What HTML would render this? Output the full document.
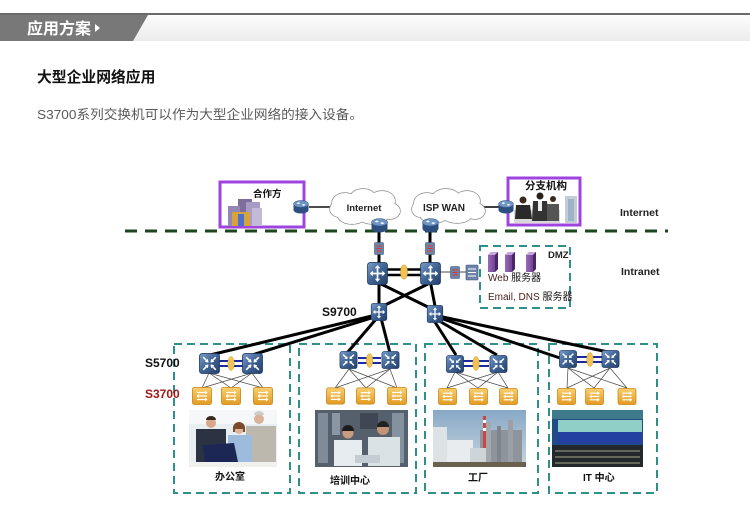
<!DOCTYPE html>
<html><head><meta charset="utf-8">
<style>
html,body{margin:0;padding:0;background:#fff;}
body{width:750px;height:511px;overflow:hidden;position:relative;font-family:"Liberation Sans","Noto Sans CJK SC",sans-serif;}
svg{position:absolute;left:0;top:0;}
</style></head>
<body>
<svg width="750" height="511" viewBox="0 0 750 511" xmlns="http://www.w3.org/2000/svg" font-family="Liberation Sans, Noto Sans CJK SC, sans-serif">
<defs>
  <linearGradient id="hdr" x1="0" y1="0" x2="0" y2="1">
    <stop offset="0" stop-color="#fdfdfd"/><stop offset="1" stop-color="#ebebeb"/>
  </linearGradient>
  <linearGradient id="gb" x1="0" y1="0" x2="1" y2="1">
    <stop offset="0" stop-color="#7a9cc8"/><stop offset="0.5" stop-color="#3f6394"/><stop offset="1" stop-color="#243f69"/>
  </linearGradient>
  <linearGradient id="go" x1="0" y1="0" x2="0" y2="1">
    <stop offset="0" stop-color="#f9cf70"/><stop offset="1" stop-color="#e39a22"/>
  </linearGradient>
  <linearGradient id="sky" x1="0" y1="0" x2="0" y2="1">
    <stop offset="0" stop-color="#88a8c6"/><stop offset="1" stop-color="#c9d5df"/>
  </linearGradient>
  <linearGradient id="sv" x1="0" y1="0" x2="1" y2="0">
    <stop offset="0" stop-color="#9a6ab8"/><stop offset="1" stop-color="#5e3480"/>
  </linearGradient>
  <symbol id="core" viewBox="0 0 20 22">
    <rect x="0.5" y="0.5" width="19" height="21" rx="2.5" fill="url(#gb)" stroke="#1f3a62" stroke-width="0.8"/>
    <path d="M10 5v12M4.5 11h11" stroke="#fff" stroke-width="1.6"/>
    <path d="M10 3l-2.6 3h5.2zM10 19l-2.6-3h5.2zM2.5 11l3-2.6v5.2zM17.5 11l-3-2.6v5.2z" fill="#fff"/>
  </symbol>
  <symbol id="agg" viewBox="0 0 20 20">
    <rect x="0.5" y="0.5" width="19" height="19" rx="2.5" fill="url(#gb)" stroke="#1f3a62" stroke-width="0.8"/>
    <path d="M4 4L8.5 8.5M16 4L11.5 8.5M4 16L8.5 11.5M16 16L11.5 11.5" stroke="#fff" stroke-width="1.6"/>
    <path d="M9 9l-3.5-0.5 3-3zM11 9l3.5-0.5-3-3zM9 11l-3.5 0.5 3 3zM11 11l3.5 0.5-3 3z" fill="#fff"/>
  </symbol>
  <symbol id="acc" viewBox="0 0 20 18">
    <rect x="0.5" y="0.5" width="19" height="17" rx="2" fill="url(#go)" stroke="#c98410" stroke-width="0.8"/>
    <path d="M5 5.5h10M5 9h10M5 12.5h10" stroke="#fff" stroke-width="1.3"/>
    <path d="M15.5 5.5l-2.5-2v4zM4.5 9l2.5-2v4zM15.5 12.5l-2.5-2v4z" fill="#fff"/>
  </symbol>
  <symbol id="rt" viewBox="0 0 16 14">
    <path d="M0.5 4v6a7.5 3.5 0 0 0 15 0v-6z" fill="#2c4f80"/>
    <ellipse cx="8" cy="4" rx="7.5" ry="3.5" fill="#6f95c4" stroke="#2c4f80" stroke-width="0.5"/>
    <path d="M4 3.2h3M9 4.8h3M6 2.5l-1.5 0.7 1.5 0.7M10 4.1l1.5 0.7-1.5 0.7" stroke="#fff" stroke-width="0.9" fill="none"/>
  </symbol>
  <symbol id="fw" viewBox="0 0 10 13">
    <rect x="0.5" y="0.5" width="9" height="12" rx="1" fill="#6d84a6" stroke="#3d5478" stroke-width="0.6"/>
    <path d="M2.5 4h5M2.5 6.5h5M2.5 9h5" stroke="#d33" stroke-width="1"/>
  </symbol>
  <symbol id="srv" viewBox="0 0 10 20">
    <path d="M0 3l3-3h7v17l-3 3H0z" fill="url(#sv)"/>
    <path d="M0 3l3-3h7l-3 3z" fill="#c9a4e0"/>
    <path d="M7 3l3-3v17l-3 3z" fill="#4a2668"/>
  </symbol>
</defs>

<!-- header -->
<rect x="0" y="13" width="750" height="2" fill="#6a6a6a"/>
<polygon points="148,15 750,15 750,41 133,41" fill="url(#hdr)"/>
<polygon points="0,15 148,15 133,41 0,41" fill="#787878"/>
<text x="27" y="34" font-size="16" font-weight="bold" fill="#fff">应用方案</text>
<polygon points="95,24 100,28 95,32" fill="#fff"/>

<text x="37" y="82" font-size="14.8" font-weight="bold" fill="#111">大型企业网络应用</text>
<text x="37" y="119" font-size="13" fill="#5a5a5a" textLength="326" lengthAdjust="spacingAndGlyphs">S3700系列交换机可以作为大型企业网络的接入设备。</text>

<!-- dashed internet boundary -->
<line x1="125" y1="231" x2="668" y2="231" stroke="#1e461e" stroke-width="3" stroke-dasharray="12 8"/>

<!-- partner box -->
<rect x="220" y="182" width="84" height="45" fill="#fff" stroke="#9d45dc" stroke-width="3"/>
<g>
  <rect x="238" y="199" width="14" height="27" fill="#7d6e9e"/>
  <rect x="246" y="202" width="14" height="24" fill="#a79cc4"/>
  <rect x="228" y="206" width="12" height="20" fill="#9487b5"/>
  <rect x="252" y="208" width="10" height="18" fill="#c2bad6"/>
  <rect x="232" y="212" width="18" height="14" fill="#d6a43a"/>
  <rect x="238" y="214" width="6" height="12" fill="#4d6fd0"/>
</g>
<text x="253" y="197" font-size="9.5" font-weight="bold" fill="#111">合作方</text>
<use href="#rt" x="293" y="200" width="16" height="14"/>
<line x1="309" y1="207" x2="332" y2="207" stroke="#111" stroke-width="1.6"/>

<!-- branch box -->
<rect x="508" y="178" width="72" height="47" fill="#fff" stroke="#9d45dc" stroke-width="3"/>
<g>
  <rect x="565" y="196" width="12" height="27" fill="#c4ccd6"/>
  <rect x="568" y="199" width="6" height="22" fill="#9fb3c8"/>
  <rect x="514" y="210" width="46" height="13" fill="#d8d8d8"/>
  <circle cx="523" cy="200" r="3.5" fill="#3a2a20"/>
  <path d="M516 205h14l2 14h-17z" fill="#2a2a2a"/>
  <circle cx="540" cy="196" r="3.5" fill="#2a2018"/>
  <path d="M533 201h14l2 20h-17z" fill="#333"/>
  <rect x="538" y="201" width="4" height="10" fill="#eee"/>
  <circle cx="553" cy="199" r="3" fill="#3a2a20"/>
  <path d="M547 204h12v17h-12z" fill="#555"/>
</g>
<text x="525" y="189" font-size="10.5" font-weight="bold" fill="#111">分支机构</text>
<line x1="484" y1="207" x2="500" y2="207" stroke="#111" stroke-width="1.6"/>
<use href="#rt" x="498" y="200" width="16" height="14"/>

<!-- clouds -->
<g fill="#fff" stroke="#8a8a8a" stroke-width="1.4">
  <ellipse cx="345" cy="203" rx="13" ry="10"/><ellipse cx="363" cy="198" rx="13" ry="9"/>
  <ellipse cx="382" cy="201" rx="13" ry="10"/><ellipse cx="390" cy="211" rx="10" ry="8"/>
  <ellipse cx="373" cy="216" rx="15" ry="8"/><ellipse cx="352" cy="216" rx="14" ry="8"/>
  <ellipse cx="339" cy="209" rx="9" ry="8"/>
  <ellipse cx="427" cy="203" rx="13" ry="10"/><ellipse cx="446" cy="198" rx="14" ry="9"/>
  <ellipse cx="467" cy="201" rx="13" ry="10"/><ellipse cx="475" cy="211" rx="10" ry="8"/>
  <ellipse cx="457" cy="215" rx="15" ry="8"/><ellipse cx="434" cy="215" rx="14" ry="8"/>
  <ellipse cx="420" cy="209" rx="8" ry="8"/>
</g>
<g fill="#fff">
  <ellipse cx="345" cy="203" rx="13" ry="10"/><ellipse cx="363" cy="198" rx="13" ry="9"/>
  <ellipse cx="382" cy="201" rx="13" ry="10"/><ellipse cx="390" cy="211" rx="10" ry="8"/>
  <ellipse cx="373" cy="216" rx="15" ry="8"/><ellipse cx="352" cy="216" rx="14" ry="8"/>
  <ellipse cx="339" cy="209" rx="9" ry="8"/><rect x="340" y="200" width="45" height="16"/>
  <ellipse cx="427" cy="203" rx="13" ry="10"/><ellipse cx="446" cy="198" rx="14" ry="9"/>
  <ellipse cx="467" cy="201" rx="13" ry="10"/><ellipse cx="475" cy="211" rx="10" ry="8"/>
  <ellipse cx="457" cy="215" rx="15" ry="8"/><ellipse cx="434" cy="215" rx="14" ry="8"/>
  <ellipse cx="420" cy="209" rx="8" ry="8"/><rect x="424" y="200" width="48" height="15"/>
</g>
<text x="364" y="211" font-size="9.5" font-weight="bold" fill="#222" text-anchor="middle">Internet</text>
<text x="444" y="211" font-size="10" font-weight="bold" fill="#222" text-anchor="middle">ISP WAN</text>

<!-- core vertical links -->
<g stroke="#000" stroke-width="3">
  <line x1="379" y1="228" x2="379" y2="305"/>
  <line x1="430" y1="228" x2="430" y2="268"/>
  <line x1="430" y1="280" x2="435" y2="306"/>
  <line x1="381" y1="284" x2="430" y2="308"/>
  <line x1="428" y1="284" x2="381" y2="307"/>
  <line x1="386" y1="269.5" x2="424" y2="269.5" stroke-width="2.5"/>
  <line x1="386" y1="275" x2="424" y2="275" stroke-width="2.5"/>
</g>
<ellipse cx="404" cy="272" rx="3.5" ry="7" fill="#f1c354" stroke="#d9a02a" stroke-width="0.6"/>
<line x1="440" y1="272" x2="468" y2="272" stroke="#888" stroke-width="1.6"/>

<use href="#rt" x="371" y="218" width="17" height="15"/>
<use href="#rt" x="422" y="218" width="17" height="15"/>
<use href="#fw" x="374" y="242" width="10" height="13"/>
<use href="#fw" x="425" y="242" width="10" height="13"/>
<use href="#core" x="367" y="262" width="21" height="23"/>
<use href="#core" x="420" y="262" width="21" height="23"/>
<use href="#fw" x="450" y="266" width="10" height="13"/>
<g>
  <rect x="466" y="265" width="12" height="15" rx="1" fill="#6d84a6" stroke="#3d5478" stroke-width="0.6"/>
  <path d="M468 269h8M468 272.5h8M468 276h8" stroke="#fff" stroke-width="0.9"/>
</g>

<!-- DMZ -->
<rect x="480" y="246" width="90" height="62" fill="none" stroke="#2f8f8a" stroke-width="2" stroke-dasharray="8 5"/>
<text x="548" y="258" font-size="9.5" font-weight="bold" fill="#222">DMZ</text>
<use href="#srv" x="488" y="252" width="10" height="20"/>
<use href="#srv" x="505" y="252" width="10" height="20"/>
<use href="#srv" x="526" y="252" width="10" height="20"/>
<text x="488" y="281" font-size="10" fill="#4a2020">Web <tspan fill="#111">服务器</tspan></text>
<text x="488" y="300" font-size="10" fill="#4a2020">Email, DNS <tspan fill="#111">服务器</tspan></text>

<text x="620" y="216" font-size="10.5" font-weight="bold" fill="#222">Internet</text>
<text x="621" y="275" font-size="10.5" font-weight="bold" fill="#222">Intranet</text>
<text x="322" y="316" font-size="12" font-weight="bold" fill="#111">S9700</text>

<!-- area boxes -->
<g fill="none" stroke="#2f8f8a" stroke-width="2" stroke-dasharray="8 5">
  <rect x="174" y="344" width="116" height="149"/>
  <rect x="299" y="344" width="117" height="149"/>
  <rect x="425" y="344" width="113" height="149"/>
  <rect x="549" y="344" width="108" height="149"/>
</g>

<!-- thick links to aggregation -->
<g stroke="#000" stroke-width="3">
  <line x1="376" y1="315" x2="210" y2="355"/>
  <line x1="378" y1="316" x2="252" y2="355"/>
  <line x1="377" y1="318" x2="347" y2="353"/>
  <line x1="381" y1="318" x2="390" y2="353"/>
  <line x1="433" y1="319" x2="456" y2="355"/>
  <line x1="436" y1="319" x2="497" y2="355"/>
  <line x1="437" y1="317" x2="560" y2="358"/>
  <line x1="438" y1="316" x2="608" y2="352"/>
</g>
<use href="#core" x="370" y="303" width="18" height="18"/>
<use href="#core" x="426" y="305" width="18" height="18"/>

<text x="145" y="367" font-size="12" font-weight="bold" fill="#111">S5700</text>
<text x="145" y="398" font-size="12" font-weight="bold" fill="#a01818">S3700</text>

<!-- mesh thin lines -->
<g stroke="#444" stroke-width="0.7" fill="none">
  <path d="M209 373L202 388M209 373L231 388M209 373L263 388M252 373L202 388M252 373L231 388M252 373L263 388"/>
  <path d="M349 369L335 388M349 369L366 388M349 369L397 388M390 369L335 388M390 369L366 388M390 369L397 388"/>
  <path d="M455 372L447 388M455 372L478 388M455 372L508 388M498 372L447 388M498 372L478 388M498 372L508 388"/>
  <path d="M568 368L567 388M568 368L594 388M568 368L627 388M610 368L567 388M610 368L594 388M610 368L627 388"/>
</g>

<!-- aggregation pairs -->
<g stroke="#1c2a9c" stroke-width="2">
  <line x1="219" y1="361" x2="243" y2="361"/><line x1="219" y1="366" x2="243" y2="366"/>
  <line x1="358" y1="358" x2="381" y2="358"/><line x1="358" y1="363" x2="381" y2="363"/>
  <line x1="463" y1="361" x2="489" y2="361"/><line x1="463" y1="366" x2="489" y2="366"/>
  <line x1="577" y1="357" x2="602" y2="357"/><line x1="577" y1="362" x2="602" y2="362"/>
</g>
<g fill="#f1c354" stroke="#d9a02a" stroke-width="0.5">
  <ellipse cx="231" cy="363.5" rx="3.2" ry="7"/>
  <ellipse cx="369.5" cy="360.5" rx="3.2" ry="7"/>
  <ellipse cx="476" cy="363.5" rx="3.2" ry="7"/>
  <ellipse cx="590" cy="359.5" rx="3.2" ry="7"/>
</g>
<use href="#agg" x="199" y="353" width="21" height="21"/>
<use href="#agg" x="242" y="353" width="21" height="21"/>
<use href="#agg" x="339" y="351" width="19" height="18"/>
<use href="#agg" x="381" y="351" width="19" height="18"/>
<use href="#agg" x="446" y="355" width="18" height="18"/>
<use href="#agg" x="489" y="355" width="19" height="18"/>
<use href="#agg" x="558" y="350" width="20" height="18"/>
<use href="#agg" x="601" y="350" width="19" height="18"/>

<!-- access switches -->
<use href="#acc" x="192" y="387" width="20" height="18"/>
<use href="#acc" x="221" y="387" width="20" height="18"/>
<use href="#acc" x="253" y="387" width="20" height="18"/>
<use href="#acc" x="326" y="387" width="19" height="18"/>
<use href="#acc" x="356" y="387" width="19" height="18"/>
<use href="#acc" x="387" y="387" width="20" height="18"/>
<use href="#acc" x="438" y="388" width="19" height="17"/>
<use href="#acc" x="469" y="388" width="19" height="17"/>
<use href="#acc" x="499" y="388" width="19" height="17"/>
<use href="#acc" x="557" y="388" width="19" height="17"/>
<use href="#acc" x="585" y="388" width="19" height="17"/>
<use href="#acc" x="617" y="388" width="20" height="17"/>

<!-- photo: office -->
<g>
  <rect x="189" y="410" width="88" height="57" fill="#e9eef3"/>
  <rect x="189" y="410" width="88" height="14" fill="#f5f7f9"/>
  <rect x="246" y="426" width="30" height="38" fill="#bdb8ae"/>
  <circle cx="259" cy="419" r="5" fill="#d9b49a"/>
  <path d="M254 415a5 4 0 0 1 10 0z" fill="#d0ccc6"/>
  <rect x="196" y="429" width="30" height="34" fill="#2b3242"/>
  <circle cx="211" cy="423" r="5" fill="#d9a88a"/>
  <path d="M206 420a5 4 0 0 1 10 0z" fill="#3a2a1e"/>
  <rect x="228" y="435" width="24" height="27" fill="#9dbbdc"/>
  <circle cx="239" cy="429" r="5" fill="#e0b49a"/>
  <path d="M233 428a6 6 0 0 1 12 0v4h-2v-3h-8v3h-2z" fill="#7a4a2a"/>
  <polygon points="203,445 234,443 238,462 205,464" fill="#1c2756"/>
  <rect x="189" y="462" width="88" height="5" fill="#f0f0ee"/>
</g>
<!-- photo: training -->
<g>
  <rect x="315" y="410" width="93" height="57" fill="#56606c"/>
  <rect x="318" y="413" width="10" height="50" fill="#7f8b98"/>
  <rect x="332" y="413" width="8" height="22" fill="#8a96a4"/>
  <rect x="392" y="413" width="12" height="50" fill="#8491a0"/>
  <rect x="360" y="413" width="18" height="16" fill="#3e4753"/>
  <rect x="334" y="440" width="28" height="26" fill="#e6ecef"/>
  <circle cx="348" cy="433" r="5.5" fill="#c89c80"/>
  <path d="M342 431a6 6 0 0 1 12 0z" fill="#1c1c1c"/>
  <rect x="368" y="437" width="32" height="29" fill="#dbe2e6"/>
  <circle cx="383" cy="429" r="6" fill="#c49478"/>
  <path d="M377 427a6 6 0 0 1 12 0z" fill="#222"/>
  <rect x="355" y="455" width="25" height="8" fill="#c5cdd4"/>
</g>
<!-- photo: factory -->
<g>
  <rect x="433" y="410" width="93" height="57" fill="url(#sky)"/>
  <rect x="480" y="430" width="42" height="32" fill="#8e949b"/>
  <rect x="486" y="422" width="5" height="40" fill="#a3a8ad"/>
  <rect x="497" y="426" width="4" height="36" fill="#7f858c"/>
  <rect x="508" y="420" width="5" height="42" fill="#9aa0a6"/>
  <rect x="483" y="416" width="3" height="40" fill="#c44"/>
  <rect x="483" y="420" width="3" height="3" fill="#fff"/><rect x="483" y="428" width="3" height="3" fill="#fff"/>
  <rect x="433" y="440" width="40" height="23" fill="#e8ecee"/>
  <rect x="433" y="427" width="14" height="36" fill="#dde2e5"/>
  <rect x="470" y="448" width="16" height="14" fill="#cfd4d8"/>
  <rect x="433" y="462" width="93" height="5" fill="#6a604e"/>
</g>
<!-- photo: IT -->
<g>
  <rect x="552" y="410" width="91" height="57" fill="#1f4c84"/>
  <rect x="552" y="410" width="91" height="9" fill="#3e7a8c"/>
  <rect x="558" y="420" width="84" height="12" fill="#8fcfc8"/>
  <rect x="558" y="432" width="84" height="12" fill="#2440a0"/>
  <rect x="552" y="445" width="91" height="22" fill="#23282d"/>
  <path d="M555 451h85M555 457h85M555 463h85" stroke="#8a8f72" stroke-width="1.2"/>
</g>

<text x="215" y="480" font-size="10" font-weight="bold" fill="#111">办公室</text>
<text x="330" y="484" font-size="10" font-weight="bold" fill="#111">培训中心</text>
<text x="468" y="481" font-size="10" font-weight="bold" fill="#111">工厂</text>
<text x="583" y="481" font-size="10" font-weight="bold" fill="#111">IT 中心</text>
</svg>
</body></html>
